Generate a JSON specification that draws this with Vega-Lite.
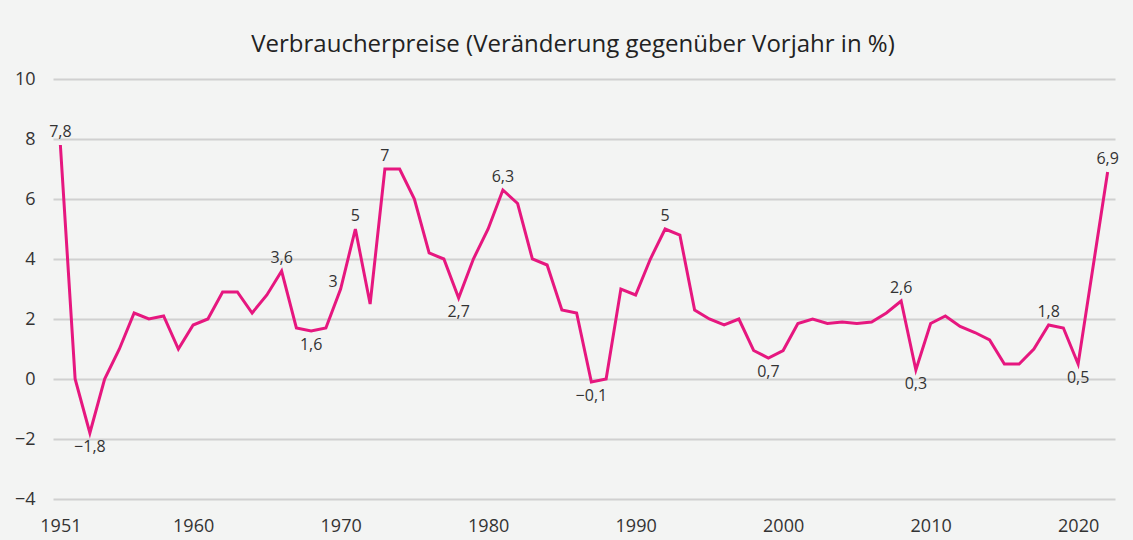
{
  "$schema": "https://vega.github.io/schema/vega-lite/v6.json",
  "autosize": {"type": "none"},
  "width": 1062,
  "height": 420,
  "padding": {"left": 53, "top": 79, "right": 18, "bottom": 41},
  "background": "#f3f4f3",
  "title": {
    "text": "Verbraucherpreise (Veränderung gegenüber Vorjahr in %)",
    "font": "Open Sans",
    "fontSize": 24,
    "fontWeight": "normal",
    "color": "#222222",
    "anchor": "middle",
    "dx": -11,
    "offset": 13
  },
  "config": {
    "locale": {
      "number": {"decimal": ",", "thousands": ".", "grouping": [3], "currency": ["", " €"], "minus": "\u2212"}
    },
    "view": {"stroke": null},
    "axis": {
      "domain": false,
      "ticks": false,
      "labelFont": "Open Sans",
      "labelFontSize": 18,
      "labelColor": "#333333",
      "title": null
    }
  },
  "data": {
    "values": [
      {"year": 1951, "value": 7.8}, {"year": 1952, "value": 0.0}, {"year": 1953, "value": -1.8},
      {"year": 1954, "value": 0.0}, {"year": 1955, "value": 1.0}, {"year": 1956, "value": 2.2},
      {"year": 1957, "value": 2.0}, {"year": 1958, "value": 2.1}, {"year": 1959, "value": 1.0},
      {"year": 1960, "value": 1.8}, {"year": 1961, "value": 2.0}, {"year": 1962, "value": 2.9},
      {"year": 1963, "value": 2.9}, {"year": 1964, "value": 2.2}, {"year": 1965, "value": 2.8},
      {"year": 1966, "value": 3.6}, {"year": 1967, "value": 1.7}, {"year": 1968, "value": 1.6},
      {"year": 1969, "value": 1.7}, {"year": 1970, "value": 3.0}, {"year": 1971, "value": 5.0},
      {"year": 1972, "value": 2.5}, {"year": 1973, "value": 7.0}, {"year": 1974, "value": 7.0},
      {"year": 1975, "value": 6.0}, {"year": 1976, "value": 4.2}, {"year": 1977, "value": 4.0},
      {"year": 1978, "value": 2.7}, {"year": 1979, "value": 4.0}, {"year": 1980, "value": 5.0},
      {"year": 1981, "value": 6.3}, {"year": 1982, "value": 5.85}, {"year": 1983, "value": 4.0},
      {"year": 1984, "value": 3.8}, {"year": 1985, "value": 2.3}, {"year": 1986, "value": 2.2},
      {"year": 1987, "value": -0.1}, {"year": 1988, "value": 0.0}, {"year": 1989, "value": 3.0},
      {"year": 1990, "value": 2.8}, {"year": 1991, "value": 4.0}, {"year": 1992, "value": 5.0},
      {"year": 1993, "value": 4.8}, {"year": 1994, "value": 2.3}, {"year": 1995, "value": 2.0},
      {"year": 1996, "value": 1.8}, {"year": 1997, "value": 2.0}, {"year": 1998, "value": 0.95},
      {"year": 1999, "value": 0.7}, {"year": 2000, "value": 0.95}, {"year": 2001, "value": 1.85},
      {"year": 2002, "value": 2.0}, {"year": 2003, "value": 1.85}, {"year": 2004, "value": 1.9},
      {"year": 2005, "value": 1.85}, {"year": 2006, "value": 1.9}, {"year": 2007, "value": 2.2},
      {"year": 2008, "value": 2.6}, {"year": 2009, "value": 0.3}, {"year": 2010, "value": 1.85},
      {"year": 2011, "value": 2.1}, {"year": 2012, "value": 1.75}, {"year": 2013, "value": 1.55},
      {"year": 2014, "value": 1.3}, {"year": 2015, "value": 0.5}, {"year": 2016, "value": 0.5},
      {"year": 2017, "value": 1.0}, {"year": 2018, "value": 1.8}, {"year": 2019, "value": 1.7},
      {"year": 2020, "value": 0.5}, {"year": 2022, "value": 6.9}
    ]
  },
  "encoding": {
    "x": {
      "field": "year",
      "type": "quantitative",
      "scale": {"domain": [1950.5, 2022.5], "nice": false, "zero": false},
      "axis": {"values": [1951, 1960, 1970, 1980, 1990, 2000, 2010, 2020], "format": "d", "grid": false, "labelPadding": 18}
    },
    "y": {
      "field": "value",
      "type": "quantitative",
      "scale": {"domain": [-4, 10], "nice": false, "zero": false},
      "axis": {"values": [-4, -2, 0, 2, 4, 6, 8, 10], "format": "d", "grid": true, "gridColor": "#d0d0d0", "gridWidth": 2, "labelPadding": 18}
    }
  },
  "layer": [
    {
      "mark": {"type": "line", "color": "#e6177f", "strokeWidth": 3, "strokeJoin": "miter"}
    },
    {
      "transform": [{"filter": {"field": "year", "oneOf": [1951, 1966, 1971, 1973, 1981, 1992, 2008, 2018, 2022]}}],
      "mark": {"type": "text", "font": "Open Sans", "fontSize": 16, "color": "#333333", "baseline": "middle", "dy": -13},
      "encoding": {"text": {"field": "value", "type": "quantitative", "format": ".1~f"}}
    },
    {
      "transform": [{"filter": {"field": "year", "oneOf": [1953, 1968, 1978, 1987, 1999, 2009, 2020]}}],
      "mark": {"type": "text", "font": "Open Sans", "fontSize": 16, "color": "#333333", "baseline": "middle", "dy": 14},
      "encoding": {"text": {"field": "value", "type": "quantitative", "format": ".1~f"}}
    },
    {
      "transform": [{"filter": {"field": "year", "oneOf": [1970]}}],
      "mark": {"type": "text", "font": "Open Sans", "fontSize": 16, "color": "#333333", "baseline": "middle", "align": "right", "dx": -3, "dy": -7},
      "encoding": {"text": {"field": "value", "type": "quantitative", "format": ".1~f"}}
    }
  ]
}
